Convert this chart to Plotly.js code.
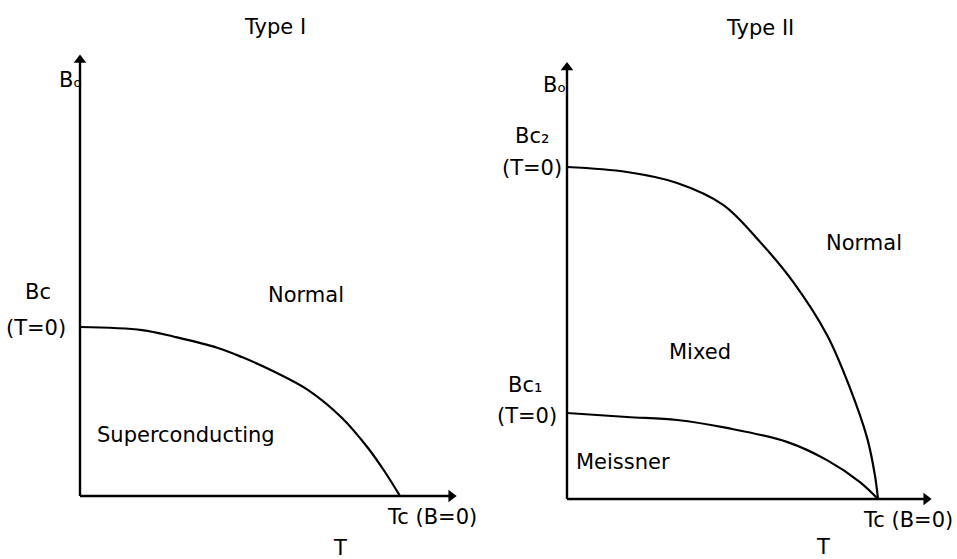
<!DOCTYPE html>
<html>
<head>
<meta charset="utf-8">
<script src="https://cdn.plot.ly/plotly-3.0.1.min.js"></script>
<style>html,body{margin:0;padding:0;background:#fff;}#chart{width:957px;height:559px;}</style>
</head>
<body>
<div id="chart"></div>
<script>
// Type I: T/Tc and B/Bc(T=0)
var t1 = [0.0, 0.194, 0.297, 0.431, 0.506, 0.609, 0.713, 0.819, 0.900, 0.953, 1.0];
var b1 = [1.0, 0.982, 0.941, 0.876, 0.822, 0.734, 0.627, 0.462, 0.284, 0.142, 0.0];
// Type II upper critical field: T/Tc and B/Bc2(T=0)
var t2u = [0.0, 0.193, 0.354, 0.502, 0.621, 0.727, 0.836, 0.910, 0.965, 0.990, 1.0];
var b2u = [1.0, 0.985, 0.952, 0.886, 0.774, 0.654, 0.494, 0.334, 0.184, 0.072, 0.0];
// Type II lower critical field (same units)
var t2l = [0.0, 0.193, 0.354, 0.514, 0.707, 0.836, 0.942, 1.0];
var b2l = [0.259, 0.247, 0.238, 0.214, 0.172, 0.117, 0.051, 0.0];
// axis extents (T max, B max) for each panel
var axisEnd1 = [1.16, 2.58];
var axisEnd2 = [1.155, 1.30];

var W = 957, H = 559;
// pixel mapping used only for label placement
var o1 = {x0: 80, y0: 496, sx: 320, sy: 169};
var o2 = {x0: 567, y0: 499, sx: 311, sy: 332};
function dx(o, px) { return (px - o.x0) / o.sx; }
function dy(o, py) { return (o.y0 - py) / o.sy; }

var lineStyle = {color: '#000', width: 2.2, shape: 'spline', smoothing: 1};
function axisTrace(xs, ys, xa, ya, sym) {
  return {x: xs, y: ys, xaxis: xa, yaxis: ya, mode: 'lines+markers', hoverinfo: 'skip',
          line: {color: '#000', width: 2.4},
          marker: {symbol: sym, size: [0, 11], color: '#000', opacity: 1,
                   line: {width: 0}}};
}
var traces = [
  axisTrace([0, 0], [0, axisEnd1[1]], 'x', 'y', 'triangle-up'),
  axisTrace([0, axisEnd1[0]], [0, 0], 'x', 'y', 'triangle-right'),
  axisTrace([0, 0], [0, axisEnd2[1]], 'x2', 'y2', 'triangle-up'),
  axisTrace([0, axisEnd2[0]], [0, 0], 'x2', 'y2', 'triangle-right'),
  {x: t1, y: b1, xaxis: 'x', yaxis: 'y', mode: 'lines', line: lineStyle, hoverinfo: 'skip'},
  {x: t2u, y: b2u, xaxis: 'x2', yaxis: 'y2', mode: 'lines', line: lineStyle, hoverinfo: 'skip'},
  {x: t2l, y: b2l, xaxis: 'x2', yaxis: 'y2', mode: 'lines', line: lineStyle, hoverinfo: 'skip'}
];

var font = {family: 'DejaVu Sans', size: 21, color: '#000'};
function lab(o, ax, ay, px, py, text) {
  return {xref: ax, yref: ay, x: dx(o, px), y: dy(o, py), text: text, showarrow: false,
          font: font, xanchor: 'center', yanchor: 'middle'};
}

var annotations = [
  lab(o1, 'x', 'y', 275, 27, 'Type I'),
  lab(o1, 'x', 'y', 70, 80, 'B\u2092'),
  lab(o1, 'x', 'y', 38, 292, 'Bc'),
  lab(o1, 'x', 'y', 36, 328, '(T=0)'),
  lab(o1, 'x', 'y', 306, 295, 'Normal'),
  lab(o1, 'x', 'y', 186, 435, 'Superconducting'),
  lab(o1, 'x', 'y', 432, 517, 'Tc (B=0)'),
  lab(o1, 'x', 'y', 340, 548, 'T'),
  lab(o2, 'x2', 'y2', 760, 28, 'Type II'),
  lab(o2, 'x2', 'y2', 554, 85, 'B\u2092'),
  lab(o2, 'x2', 'y2', 532, 136, 'Bc\u2082'),
  lab(o2, 'x2', 'y2', 532, 168, '(T=0)'),
  lab(o2, 'x2', 'y2', 864, 243, 'Normal'),
  lab(o2, 'x2', 'y2', 700, 352, 'Mixed'),
  lab(o2, 'x2', 'y2', 525, 385, 'Bc\u2081'),
  lab(o2, 'x2', 'y2', 527, 416, '(T=0)'),
  lab(o2, 'x2', 'y2', 623, 462, 'Meissner'),
  lab(o2, 'x2', 'y2', 908, 520, 'Tc (B=0)'),
  lab(o2, 'x2', 'y2', 823, 547, 'T')
];

function hidden(range, domain, anchor) {
  return {range: range, domain: domain, anchor: anchor, visible: false, fixedrange: true};
}
var layout = {
  width: W, height: H,
  margin: {l: 0, r: 0, t: 0, b: 0},
  paper_bgcolor: '#fff', plot_bgcolor: '#fff',
  showlegend: false,
  xaxis: hidden([dx(o1, 0), dx(o1, W / 2)], [0, 0.5], 'y'),
  yaxis: hidden([dy(o1, H), dy(o1, 0)], [0, 1], 'x'),
  xaxis2: hidden([dx(o2, W / 2), dx(o2, W)], [0.5, 1], 'y2'),
  yaxis2: hidden([dy(o2, H), dy(o2, 0)], [0, 1], 'x2'),
  annotations: annotations
};
Plotly.newPlot('chart', traces, layout, {staticPlot: true, displayModeBar: false});
</script>
</body>
</html>
